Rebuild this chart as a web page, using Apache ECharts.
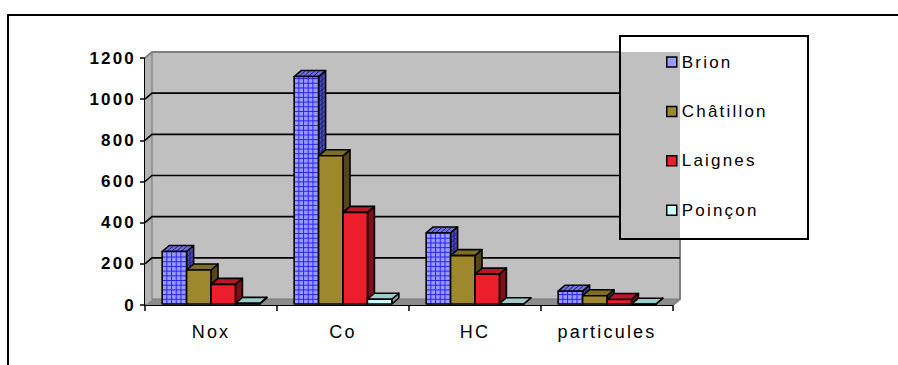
<!DOCTYPE html>
<html>
<head>
<meta charset="utf-8">
<script src="https://cdn.jsdelivr.net/npm/echarts@6/dist/echarts.min.js"></script>
<style>
  html, body { margin: 0; padding: 0; background: #fff; }
  #chart { width: 898px; height: 365px; }
  #chart text { letter-spacing: 2.2px; }
</style>
</head>
<body>
<div id="chart"></div>
<script>
// Emission figures per pollutant and site
const categories = ['Nox', 'Co', 'HC', 'particules'];
const seriesNames = ['Brion', 'Châtillon', 'Laignes', 'Poinçon'];
const brion = [260, 1110, 350, 67];
const chatillon = [170, 725, 240, 45];
const laignes = [100, 450, 150, 27];
const poincon = [8, 28, 6, 4];
const gridValues = [200, 400, 600, 800, 1000];
const yMax = 1200;
const yStep = 200;

// 3-D look: depth offset of the back wall and of the bar tops
const DX = 7, DY = -6;
const FONT = 'Liberation Sans';
// Legend frame (x, y, w, h)
const LEG = { x: 620, y: 36, w: 188, h: 203 };

const palettes = [
  { front: '#9999FF', top: '#7373D6', side: '#4F4FA8', hatch: '#2626F0', hatchSide: '#1C1C8C' },
  { front: '#9E882D', top: '#806C22', side: '#554716' },
  { front: '#EC1E2C', top: '#B81826', side: '#7C101A' },
  { front: '#CCFFFF', top: '#9CCCCC', side: '#7EA6A6' }
];
const seriesData = [brion, chatillon, laignes, poincon];

function renderWall(params, api) {
  const cs = params.coordSys;
  const x0 = cs.x, y0 = cs.y, x1 = cs.x + cs.width, y1 = cs.y + cs.height;
  const edge = { stroke: '#808080', lineWidth: 2, fill: null };
  return {
    type: 'group',
    children: [
      { type: 'rect', shape: { x: x0 + DX, y: y0 + DY, width: cs.width, height: cs.height }, style: { fill: '#C0C0C0' } },
      { type: 'polygon', shape: { points: [[x0, y0], [x0 + DX, y0 + DY], [x0 + DX, y1 + DY], [x0, y1]] }, style: { fill: '#B4B4B4' } },
      { type: 'polygon', shape: { points: [[x0, y1], [x0 + DX, y1 + DY], [x1 + DX, y1 + DY], [x1, y1]] }, style: { fill: '#8C8C8C' } },
      // top edge, stops at the legend frame
      { type: 'polyline', shape: { points: [[x0, y0], [x0 + DX, y0 + DY], [LEG.x, y0 + DY]] }, style: edge },
      // right edge below the legend and the floor corner
      { type: 'polyline', shape: { points: [[x1 + DX, LEG.y + LEG.h], [x1 + DX, y1 + DY], [x1, y1]] }, style: edge },
      // back corner of the side wall
      { type: 'line', shape: { x1: x0 + DX, y1: y0 + DY, x2: x0 + DX, y2: y1 + DY }, style: { stroke: '#8A8A8A', lineWidth: 1.5 } },
      { type: 'line', shape: { x1: x0 + DX, y1: y1 + DY, x2: x1 + DX, y2: y1 + DY }, style: { stroke: '#7A7A7A', lineWidth: 1 } }
    ]
  };
}

function renderGridLine(params, api) {
  const cs = params.coordSys;
  const y = api.coord([0, api.value(1)])[1];
  const by = y + DY;
  const inLegend = by >= LEG.y && by <= LEG.y + LEG.h;
  const xEnd = inLegend ? LEG.x : cs.x + cs.width + DX;
  return {
    type: 'polyline',
    shape: { points: [[cs.x, y], [cs.x + DX, by], [xEnd, by]] },
    style: { stroke: '#000', lineWidth: 1.6, fill: null }
  };
}

function makeBarRenderer(sIdx) {
  const pal = palettes[sIdx];
  return function (params, api) {
    const ci = api.value(0), v = api.value(1);
    const base = api.coord([ci, 0]);
    const top = api.coord([ci, v]);
    const catW = api.size([1, 0])[0];
    const bw = catW * 0.185;
    const x0 = base[0] - 2 * bw + sIdx * bw;
    const x1 = x0 + bw;
    const by = base[1] - 1, ty = top[1];
    const outline = { stroke: '#000', lineWidth: 1.6, lineJoin: 'round' };
    const children = [];
    children.push({ type: 'polygon', shape: { points: [[x1, ty], [x1 + DX, ty + DY], [x1 + DX, by + DY], [x1, by]] }, style: Object.assign({ fill: pal.side }, outline) });
    children.push({ type: 'polygon', shape: { points: [[x0, ty], [x0 + DX, ty + DY], [x1 + DX, ty + DY], [x1, ty]] }, style: Object.assign({ fill: pal.top }, outline) });
    children.push({ type: 'rect', shape: { x: x0, y: ty, width: bw, height: by - ty }, style: { fill: pal.front } });
    if (pal.hatch) {
      const cell = bw / 5.2;
      const hs = { stroke: pal.hatch, lineWidth: 1 };
      for (let k = 1; k * cell < bw - 1; k++) {
        children.push({ type: 'line', shape: { x1: x0 + k * cell, y1: ty, x2: x0 + k * cell, y2: by }, style: hs });
      }
      for (let yy = by - cell; yy > ty + 1; yy -= cell) {
        children.push({ type: 'line', shape: { x1: x0, y1: yy, x2: x1, y2: yy }, style: hs });
        children.push({ type: 'line', shape: { x1: x1, y1: yy, x2: x1 + DX, y2: yy + DY }, style: { stroke: pal.hatchSide, lineWidth: 1 } });
      }
      children.push({ type: 'line', shape: { x1: x1 + DX / 2, y1: ty + DY / 2, x2: x1 + DX / 2, y2: by + DY / 2 }, style: { stroke: pal.hatchSide, lineWidth: 1 } });
      for (let k = 1; k * cell < bw - 1; k++) {
        children.push({ type: 'line', shape: { x1: x0 + k * cell, y1: ty, x2: x0 + k * cell + DX, y2: ty + DY }, style: { stroke: pal.hatchSide, lineWidth: 1 } });
      }
    }
    children.push({ type: 'rect', shape: { x: x0, y: ty, width: bw, height: by - ty }, style: Object.assign({ fill: null }, outline) });
    return { type: 'group', children: children };
  };
}

const chart = echarts.init(document.getElementById('chart'), null, { renderer: 'svg' });

const series = [
  {
    type: 'custom', name: '__wall', silent: true, z: 1,
    renderItem: renderWall, data: [[0, 0]]
  },
  {
    type: 'custom', name: '__grid', silent: true, z: 1,
    renderItem: renderGridLine, data: gridValues.map(v => [0, v])
  }
];
seriesNames.forEach((name, i) => {
  series.push({
    type: 'custom', name: name, z: 3,
    itemStyle: { color: palettes[i].front },
    renderItem: makeBarRenderer(i),
    data: seriesData[i].map((v, ci) => [ci, v])
  });
});

chart.setOption({
  animation: false,
  backgroundColor: '#fff',
  grid: { left: 145, top: 58, width: 528, height: 247, containLabel: false },
  xAxis: {
    type: 'category', data: categories, boundaryGap: true,
    axisLine: { lineStyle: { color: '#000', width: 2 } },
    axisTick: { show: true, length: 6, interval: 0, lineStyle: { color: '#000', width: 1.5 } },
    axisLabel: { interval: 0, margin: 18, color: '#000', fontFamily: FONT, fontSize: 18 },
    splitLine: { show: false }
  },
  yAxis: {
    type: 'value', min: 0, max: yMax, interval: yStep,
    axisLine: { show: true, lineStyle: { color: '#000', width: 2 } },
    axisTick: { show: true, length: 5, lineStyle: { color: '#000', width: 1.5 } },
    axisLabel: {
      margin: 9, color: '#000', fontFamily: FONT, fontSize: 17, fontWeight: 'bold',
      formatter: v => String(v)
    },
    splitLine: { show: false }
  },
  legend: {
    data: seriesNames, orient: 'vertical', left: 666, top: 52,
    itemWidth: 10, itemHeight: 10, itemGap: 29.4, padding: 0,
    icon: 'rect', selectedMode: false, z: 20,
    itemStyle: { borderColor: '#000', borderWidth: 1.5 },
    textStyle: { fontFamily: FONT, fontSize: 17, color: '#000', lineHeight: 20 }
  },
  graphic: [
    { type: 'rect', z: 50, silent: true, shape: { x: 8, y: 15, width: 1000, height: 500 }, style: { fill: null, stroke: '#000', lineWidth: 2 } },
    { type: 'rect', z: 50, silent: true, shape: { x: LEG.x, y: LEG.y, width: LEG.w, height: LEG.h }, style: { fill: null, stroke: '#000', lineWidth: 2 } }
  ],
  series: series
});
</script>
</body>
</html>
